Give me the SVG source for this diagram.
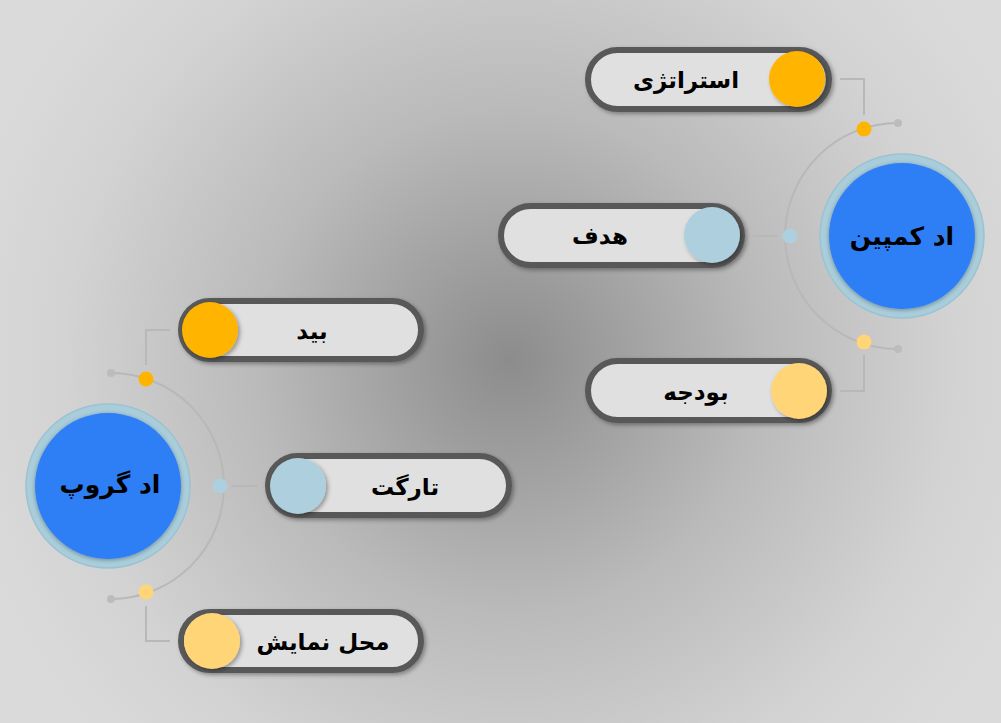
<svg xmlns="http://www.w3.org/2000/svg" width="1001" height="723" viewBox="0 0 1001 723">
<defs>
<radialGradient id="bg" cx="510" cy="360" r="560" gradientUnits="userSpaceOnUse">
<stop offset="0" stop-color="#8c8c8c"/>
<stop offset="0.45" stop-color="#bababa"/>
<stop offset="0.8" stop-color="#d3d3d3"/>
<stop offset="1" stop-color="#dadada"/>
</radialGradient>
<filter id="sh" x="-30%" y="-30%" width="160%" height="160%">
<feDropShadow dx="2" dy="2" stdDeviation="2" flood-color="#000" flood-opacity="0.35"/>
</filter>
<filter id="shc" x="-30%" y="-30%" width="160%" height="160%">
<feDropShadow dx="0" dy="1" stdDeviation="2" flood-color="#000" flood-opacity="0.35"/>
</filter>
</defs>
<style>
.pill{fill:#e0e0e0;stroke:#585858;stroke-width:6}
.lbl{font-family:"DejaVu Sans","Noto Sans",sans-serif;font-weight:bold;font-size:23px;fill:#000;text-anchor:middle}
.big{font-family:"DejaVu Sans","Noto Sans",sans-serif;font-weight:bold;font-size:25px;fill:#000;text-anchor:middle}
.ring{fill:#a9cddb;stroke:#9cc2d1;stroke-width:1.5}
.core{fill:#2f7ef6}
.ln{fill:none;stroke:#b8b8b8;stroke-width:2}
.gd{fill:#bcbcbc}
.c1{fill:#ffb400}
.c2{fill:#aecfde}
.c3{fill:#ffd577}
</style>
<rect x="0" y="0" width="1001" height="723" fill="url(#bg)"/>

<g id="connectors">
<path class="ln" d="M898 123 A113 113 0 0 0 898 349"/>
<path class="ln" d="M864 115 V79 H840"/>
<path class="ln" d="M778 236 H752"/>
<path class="ln" d="M864 355 V391 H840"/>
<circle class="gd" cx="898" cy="123" r="4"/>
<circle class="gd" cx="898" cy="349" r="4"/>
<circle class="c1" cx="864" cy="129" r="7.5"/>
<circle class="c2" cx="790" cy="236" r="7.5"/>
<circle class="c3" cx="864" cy="342" r="7.5"/>

<path class="ln" d="M111 373 A113 113 0 0 1 111 599"/>
<path class="ln" d="M146 365 V330 H170"/>
<path class="ln" d="M231 486 H258"/>
<path class="ln" d="M146 606 V641 H170"/>
<circle class="gd" cx="111" cy="373" r="4"/>
<circle class="gd" cx="111" cy="599" r="4"/>
<circle class="c1" cx="146" cy="379" r="7.5"/>
<circle class="c2" cx="220" cy="486" r="7.5"/>
<circle class="c3" cx="146" cy="592" r="7.5"/>
</g>

<g id="ad-campaign">
<circle class="ring" cx="902" cy="236" r="82"/>
<circle class="core" cx="902" cy="236" r="73" filter="url(#shc)"/>
<text class="big" x="902" y="245">اد کمپین</text>
</g>

<g id="strategy">
<rect class="pill" x="588" y="50" width="241" height="59" rx="29.5" filter="url(#sh)"/>
<circle class="c1" cx="797" cy="79" r="28" filter="url(#sh)"/>
<text class="lbl" x="686" y="88">استراتژی</text>
</g>

<g id="goal">
<rect class="pill" x="501" y="206" width="241" height="59" rx="29.5" filter="url(#sh)"/>
<circle class="c2" cx="712" cy="235" r="28" filter="url(#sh)"/>
<text class="lbl" x="600" y="244">هدف</text>
</g>

<g id="budget">
<rect class="pill" x="588" y="361" width="241" height="59" rx="29.5" filter="url(#sh)"/>
<circle class="c3" cx="799" cy="391" r="28" filter="url(#sh)"/>
<text class="lbl" x="696" y="400">بودجه</text>
</g>

<g id="ad-group">
<circle class="ring" cx="108" cy="486" r="82"/>
<circle class="core" cx="108" cy="486" r="73" filter="url(#shc)"/>
<text class="big" x="110" y="493">اد گروپ</text>
</g>

<g id="bid">
<rect class="pill" x="181" y="301" width="240" height="58" rx="29" filter="url(#sh)"/>
<circle class="c1" cx="210" cy="330" r="28" filter="url(#sh)"/>
<text class="lbl" x="312" y="339">بید</text>
</g>

<g id="target">
<rect class="pill" x="268" y="456" width="241" height="59" rx="29.5" filter="url(#sh)"/>
<circle class="c2" cx="298" cy="486" r="28" filter="url(#sh)"/>
<text class="lbl" x="405" y="495">تارگت</text>
</g>

<g id="placement">
<rect class="pill" x="181" y="612" width="240" height="58" rx="29" filter="url(#sh)"/>
<circle class="c3" cx="212" cy="641" r="28" filter="url(#sh)"/>
<text class="lbl" x="323" y="650">محل نمایش</text>
</g>
</svg>
